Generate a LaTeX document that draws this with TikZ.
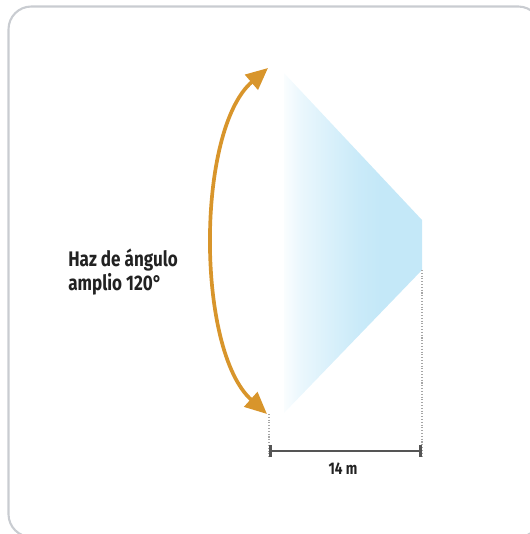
\documentclass[tikz,border=0pt]{standalone}
\usepackage{fontspec}
\setmainfont{Fira Sans}
\newfontfamily\condfont[FakeStretch=0.81]{Fira Sans}
\usetikzlibrary{arrows.meta}
\definecolor{beamorange}{HTML}{D8952B}
\definecolor{beamblue}{HTML}{C4E8F8}
\definecolor{framegray}{HTML}{C9CCD1}
\definecolor{dimgray}{HTML}{555555}
\definecolor{textgray}{HTML}{222222}
\pgfdeclarehorizontalshading{beamfade}{100bp}{color(0bp)=(beamblue!8); color(25bp)=(beamblue!8);
  color(31bp)=(beamblue!35); color(42bp)=(beamblue!65); color(52bp)=(beamblue!90);
  color(60bp)=(beamblue); color(100bp)=(beamblue)}

\begin{document}
\begin{tikzpicture}[x=0.02cm,y=-0.02cm,
  caption/.style={font=\condfont\bfseries\fontsize{12}{11.3}\selectfont, text=textgray, inner sep=0},
  guide/.style={draw=gray!70, densely dotted, line width=0.6pt}]
  \useasboundingbox (0,0) rectangle (529,534);
  \draw[framegray, line width=1.2pt, rounded corners=13] (8.5,6.5) rectangle (541,537);
  % beam
  \shade[shading=beamfade] (284,73) -- (422,220) -- (422,270) -- (284,413) -- cycle;
  \coordinate (BT) at (268,68);
  \coordinate (BB) at (267,414);
  \coordinate (LT) at (269,414);
  \coordinate (LB) at (269,457);
  \coordinate (RT) at (422,270);
  \coordinate (RB) at (422,457);
  \coordinate (DL) at (269,451);
  \coordinate (DR) at (422,451);
  \node[caption, align=left, anchor=west] at (68,272) (Haz) {Haz de ángulo\\amplio 120°};
  \node[caption, font=\condfont\bfseries\fontsize{9.6}{11}\selectfont] at (343,469) (Dist) {14 m};
  \draw[beamorange, line width=2.1pt, {Triangle[length=12.5pt,width=11pt]}-{Triangle[length=12.5pt,width=11pt]}]
    (BB) .. controls (196,350) and (196,130) .. (BT);
  \draw[guide] (LT) -- (LB);
  \draw[guide] (RT) -- (RB);
  \draw[dimgray, line width=1.6pt, {Bar[width=7pt]}-{Bar[width=7pt]}] (DL) -- (DR);
\end{tikzpicture}
\end{document}
